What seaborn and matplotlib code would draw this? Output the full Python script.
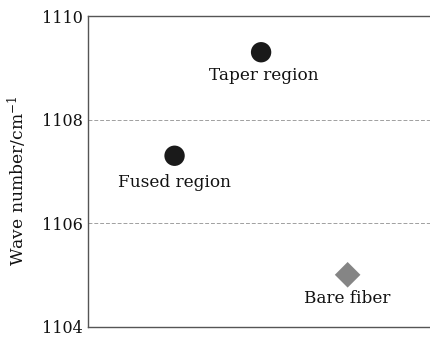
import matplotlib
matplotlib.use("Agg")
import matplotlib.pyplot as plt
import seaborn as sns
import pandas as pd

# Raman peak position measured at three locations along the fiber
regions = ["Fused region", "Taper region", "Bare fiber"]
positions = [1, 2, 3]
wave_numbers = [1107.3, 1109.3, 1105.0]
marker_shapes = ["o", "o", "D"]
marker_colors = ["#1a1a1a", "#1a1a1a", "#858585"]
marker_sizes = [215, 215, 170]
label_offsets = [(0, -19.5), (2, -16.5), (0, -17.3)]

y_ticks = [1104, 1106, 1108, 1110]

df = pd.DataFrame({"region": regions, "pos": positions, "wn": wave_numbers})

sns.set_theme(style="white")
plt.rcParams["font.family"] = ["DejaVu Serif"]
plt.rcParams["mathtext.fontset"] = "dejavuserif"

fig = plt.figure(figsize=(4.30, 3.37), dpi=100)
ax = fig.add_axes([0.2047, 0.031, 0.805, 0.9215])

sns.scatterplot(
    data=df, x="pos", y="wn", hue="region", style="region",
    palette=dict(zip(regions, marker_colors)),
    markers=dict(zip(regions, marker_shapes)),
    s=200, edgecolor="none", legend=False, ax=ax, zorder=3,
)
ax.collections[0].set_sizes(marker_sizes)

for name, x, y, off in zip(regions, positions, wave_numbers, label_offsets):
    ax.annotate(name, (x, y), xytext=off, textcoords="offset points",
                ha="center", va="center", fontsize=12.2, color="#111111")

ax.set_xlim(0, 4)
ax.set_ylim(1104, 1110)
ax.set_yticks(y_ticks)
ax.set_yticklabels([str(t) for t in y_ticks], fontsize=11.5, color="#111111")
ax.set_xticks(positions)
ax.set_xticklabels([])
ax.tick_params(axis="x", direction="in", length=4, width=0.6, colors="#aaaaaa")
ax.tick_params(axis="y", direction="out", length=2, width=0.6, colors="#444444",
               labelcolor="#111111", pad=2)

ax.set_xlabel("")
ax.set_ylabel("Wave number/cm$^{-1}$", fontsize=12.3, color="#111111")
ax.yaxis.set_label_coords(-0.17, 0.47)

for y in [1106, 1108]:
    ax.axhline(y, color="#a0a0a0", lw=0.7, ls=(0, (4, 2)), zorder=1)

for side in ["left", "top", "bottom"]:
    ax.spines[side].set_color("#555555")
    ax.spines[side].set_linewidth(1.0)
ax.spines["right"].set_visible(False)

fig.savefig("out.png", dpi=100)
